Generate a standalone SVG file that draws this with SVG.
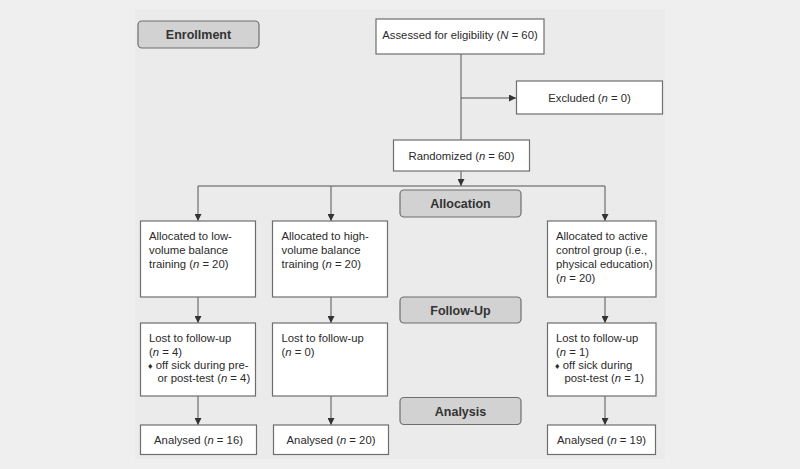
<svg xmlns="http://www.w3.org/2000/svg" width="800" height="469" viewBox="0 0 800 469">
<defs>
<marker id="ah" viewBox="0 0 8 8" refX="8" refY="4" markerWidth="7" markerHeight="7" markerUnits="userSpaceOnUse" orient="auto">
<path d="M0,0 L8,4 L0,8 Z" fill="#333"/>
</marker>
<style>
.bg{fill:#efefef}
.panel{fill:#ebebeb}
.box{fill:#ffffff;stroke:#6e6e6e;stroke-width:1.2}
.hdr{fill:#d2d2d2;stroke:#6e6e6e;stroke-width:1.2}
.t{font-family:"Liberation Sans",Arial,sans-serif;font-size:11.3px;fill:#2b2b2b}
.c{text-anchor:middle}
.h{font-family:"Liberation Sans",Arial,sans-serif;font-size:12.5px;font-weight:bold;fill:#333;text-anchor:middle}
.ln{fill:none;stroke:#555;stroke-width:1}
.arr{marker-end:url(#ah)}
</style>
</defs>
<rect class="bg" x="0" y="0" width="800" height="469"/>
<rect class="panel" x="135" y="10" width="530" height="449"/>

<g id="connectors">
<line class="ln" x1="461" y1="54" x2="461" y2="140"/>
<line class="ln arr" x1="461" y1="98" x2="516" y2="98"/>
<line class="ln arr" x1="461" y1="171" x2="461" y2="186"/>
<polyline class="ln" points="198,186 605,186"/>
<line class="ln arr" x1="198" y1="186" x2="198" y2="221"/>
<line class="ln arr" x1="331" y1="186" x2="331" y2="221"/>
<line class="ln arr" x1="605" y1="186" x2="605" y2="221"/>
<line class="ln arr" x1="198" y1="297" x2="198" y2="323"/>
<line class="ln arr" x1="331" y1="297" x2="331" y2="323"/>
<line class="ln arr" x1="605" y1="297" x2="605" y2="323"/>
<line class="ln arr" x1="198" y1="396" x2="198" y2="425"/>
<line class="ln arr" x1="331" y1="396" x2="331" y2="425"/>
<line class="ln arr" x1="605" y1="396" x2="605" y2="425"/>
</g>

<g id="enrollment">
<rect class="hdr" x="138" y="21" width="121" height="27" rx="4"/>
<text class="h" x="198.5" y="39">Enrollment</text>
</g>

<g id="assessed">
<rect class="box" x="376" y="19" width="168" height="35"/>
<text class="t c" x="460" y="39">Assessed for eligibility (<tspan font-style="italic">N</tspan> = 60)</text>
</g>

<g id="excluded">
<rect class="box" x="516.5" y="81" width="146" height="33"/>
<text class="t c" x="589.5" y="102">Excluded (<tspan font-style="italic">n</tspan> = 0)</text>
</g>

<g id="randomized">
<rect class="box" x="393.5" y="140" width="136" height="31"/>
<text class="t c" x="461.5" y="159.5">Randomized (<tspan font-style="italic">n</tspan> = 60)</text>
</g>

<g id="allocation">
<rect class="hdr" x="400" y="190" width="121" height="27" rx="4"/>
<text class="h" x="460.5" y="208">Allocation</text>
</g>

<g id="alloc-low">
<rect class="box" x="140.5" y="221" width="115" height="76"/>
<text class="t" x="149" y="239.5">Allocated to low-</text>
<text class="t" x="149" y="253.5">volume balance</text>
<text class="t" x="149" y="267.5">training (<tspan font-style="italic">n</tspan> = 20)</text>
</g>

<g id="alloc-high">
<rect class="box" x="272.5" y="221" width="115" height="76"/>
<text class="t" x="281.5" y="239.5">Allocated to high-</text>
<text class="t" x="281.5" y="253.5">volume balance</text>
<text class="t" x="281.5" y="267.5">training (<tspan font-style="italic">n</tspan> = 20)</text>
</g>

<g id="alloc-control">
<rect class="box" x="547.5" y="221" width="108.5" height="76"/>
<text class="t" x="556" y="239.5">Allocated to active</text>
<text class="t" x="556" y="253.5">control group (i.e.,</text>
<text class="t" x="556" y="267.5">physical education)</text>
<text class="t" x="556" y="281.5">(<tspan font-style="italic">n</tspan> = 20)</text>
</g>

<g id="followup">
<rect class="hdr" x="400" y="297" width="121" height="26" rx="4"/>
<text class="h" x="460.5" y="314.5">Follow-Up</text>
</g>

<g id="lost-low">
<rect class="box" x="140.5" y="323" width="115" height="73"/>
<text class="t" x="149" y="342">Lost to follow-up</text>
<text class="t" x="149" y="355.5">(<tspan font-style="italic">n</tspan> = 4)</text>
<text class="t" x="148" y="368.5"><tspan font-size="9px">♦</tspan> off sick during pre-</text>
<text class="t" x="157.5" y="382">or post-test (<tspan font-style="italic">n</tspan> = 4)</text>
</g>

<g id="lost-high">
<rect class="box" x="272.5" y="323" width="115" height="73"/>
<text class="t" x="281.5" y="342">Lost to follow-up</text>
<text class="t" x="281.5" y="355.5">(<tspan font-style="italic">n</tspan> = 0)</text>
</g>

<g id="lost-control">
<rect class="box" x="547.5" y="323" width="108.5" height="73"/>
<text class="t" x="556" y="342">Lost to follow-up</text>
<text class="t" x="556" y="355.5">(<tspan font-style="italic">n</tspan> = 1)</text>
<text class="t" x="555" y="368.5"><tspan font-size="9px">♦</tspan> off sick during</text>
<text class="t" x="564.5" y="382">post-test (<tspan font-style="italic">n</tspan> = 1)</text>
</g>

<g id="analysis">
<rect class="hdr" x="400" y="397.5" width="121" height="27" rx="4"/>
<text class="h" x="460.5" y="415.5">Analysis</text>
</g>

<g id="analysed-low">
<rect class="box" x="140.5" y="425" width="116" height="29.5"/>
<text class="t c" x="198.5" y="444">Analysed (<tspan font-style="italic">n</tspan> = 16)</text>
</g>

<g id="analysed-high">
<rect class="box" x="273.5" y="425" width="115" height="29.5"/>
<text class="t c" x="331" y="444">Analysed (<tspan font-style="italic">n</tspan> = 20)</text>
</g>

<g id="analysed-control">
<rect class="box" x="547.5" y="425" width="108" height="29.5"/>
<text class="t c" x="601.5" y="444">Analysed (<tspan font-style="italic">n</tspan> = 19)</text>
</g>
</svg>
